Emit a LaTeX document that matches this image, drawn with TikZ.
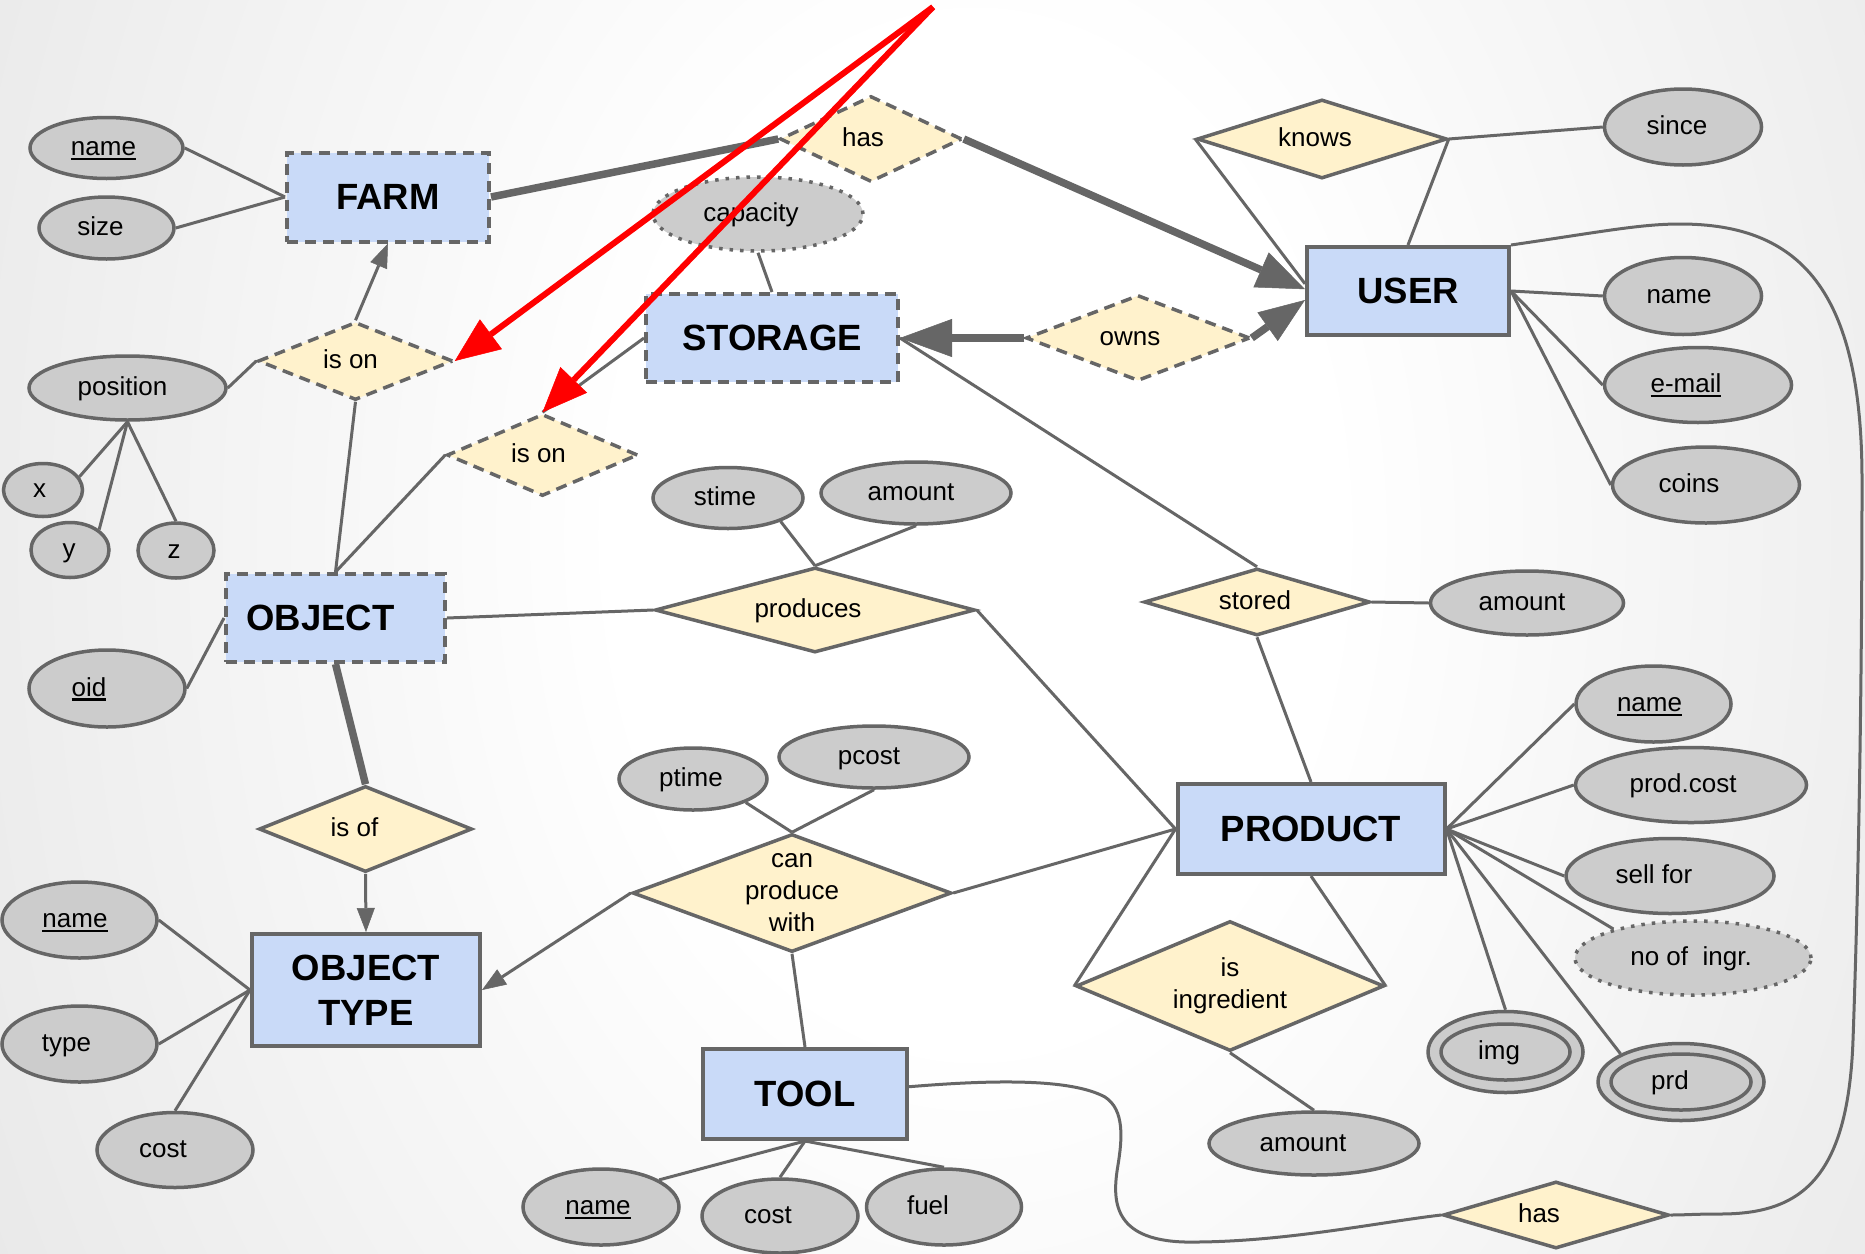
\documentclass[tikz,border=0pt]{standalone}
\usepackage{fontspec}
\setmainfont{Liberation Sans}
\usetikzlibrary{shapes.geometric,arrows.meta}

\definecolor{entfill}{HTML}{C9DAF8}
\definecolor{relfill}{HTML}{FFF2CC}
\definecolor{attrfill}{HTML}{CCCCCC}
\definecolor{linegray}{HTML}{666666}
\definecolor{bgedge}{HTML}{CFCFCF}

% soft radial glow behind the diagram
\pgfdeclareradialshading{bgglow}{\pgfpoint{0bp}{0bp}}{color(0bp)=(white); color(9bp)=(white); color(50bp)=(bgedge); color(72bp)=(bgedge)}

% key attributes: underlined label
\newsavebox{\keytextbox}
\newcommand{\keyattr}[1]{\sbox{\keytextbox}{#1}\smash{\rlap{\rule[-4.5pt]{\wd\keytextbox}{2.2pt}}}\usebox{\keytextbox}}

\tikzset{
  base/.style={draw=linegray, line width=3.5pt, inner sep=0pt, font=\fontsize{26}{32}\selectfont},
  entity/.style={base, rectangle, fill=entfill, line width=4pt, font=\bfseries\fontsize{36.5}{44.5}\selectfont},
  rel/.style={base, diamond, fill=relfill, text height=19pt, text depth=4pt},
  attr/.style={base, ellipse, fill=attrfill, text height=19pt, text depth=4pt},
  weak/.style={dash pattern=on 11pt off 7pt},
  derived/.style={dash pattern=on 3.5pt off 7pt},
  reltext/.style={font=\fontsize{26}{32}\selectfont, align=center, inner sep=0pt},
  sz/.style 2 args={minimum width=#1pt, minimum height=#2pt},
  ts/.style={execute at begin node={\hspace*{-#1pt}}},
  link/.style={draw=linegray, line width=3pt},
  heavy/.style={draw=linegray, line width=7.5pt},
  smalltip/.style={-{Triangle[length=24pt,width=18pt,line width=0.5pt]}},
  bigtip/.style={-{Triangle[length=48pt,width=38pt,line width=0.5pt]}},
  redarrow/.style={draw=red, line width=6pt, -{Triangle[length=45pt,width=37pt,line width=0.5pt]}},
}

\begin{document}
\begin{tikzpicture}[x=1pt, y=-1pt]

% background
\begin{scope}
  \clip (0,0) rectangle (1865,1253);
  \shade[shading=bgglow] (-25,-865) rectangle (1975,1935);
\end{scope}

% ---------- entities ----------
\node[entity, weak, sz={202}{89}] (farm) at (388,197) {FARM};
\node[entity, weak, sz={252}{88}] (storage) at (772,338) {STORAGE};
\node[entity, sz={202}{88}] (user) at (1408,291) {USER};
\node[entity, weak, sz={219}{88}] (object) at (335.5,618) {\hspace*{-30pt}OBJECT};
\node[entity, align=center, sz={228}{112}] (otype) at (366,990) {OBJECT\\TYPE};
\node[entity, sz={267}{90}] (product) at (1311,829) {PRODUCT};
\node[entity, sz={204}{90}] (tool) at (805,1094) {TOOL};

% ---------- relationships ----------
\node[rel, weak, sz={182}{86}, aspect=2.12, ts=16] (hasfarm) at (871,139) {has};
\node[rel, sz={250}{79}, aspect=3.16, ts=14] (knows) at (1322,139) {knows};
\node[rel, weak, sz={195}{78}, aspect=2.5, ts=10] (isonfarm) at (355.5,361) {is on};
\node[rel, weak, sz={191}{82}, aspect=2.33, ts=8] (isonstorage) at (542.5,455) {is on};
\node[rel, weak, sz={224}{86}, aspect=2.6, ts=16] (owns) at (1138,338) {owns};
\node[rel, sz={320}{85}, aspect=3.76, ts=14] (produces) at (815,610) {produces};
\node[rel, sz={226}{67}, aspect=3.37, ts=4] (stored) at (1257,602) {stored};
\node[rel, sz={213}{86}, aspect=2.48, ts=22] (isof) at (365.5,829) {is of};
\node[rel, sz={319}{118}, label={[reltext]center:can\\produce\\with}] (canprod) at (792,893) {};
\node[rel, sz={308}{130}, label={[reltext]center:is\\ingredient}] (isingr) at (1230,986) {};
\node[rel, sz={226}{67}, aspect=3.37, ts=34] (hastool) at (1556,1215) {has};

% ---------- attributes ----------
\node[attr, sz={153}{61}, ts=6] (farmname) at (106.5,148) {\keyattr{name}};
\node[attr, sz={135}{62}, ts=12] (farmsize) at (106.5,228) {size};
\node[attr, derived, sz={210}{74}, ts=14] (capacity) at (758,214) {capacity};
\node[attr, sz={197}{64}, ts=10] (position) at (127.5,388) {position};
\node[attr, sz={79}{53}, ts=7] (posx) at (43,490) {x};
\node[attr, sz={78}{55}, ts=2] (posy) at (70,550) {y};
\node[attr, sz={76}{55}, ts=4] (posz) at (176,550.5) {z};
\node[attr, sz={150}{61}, ts=6] (stime) at (728,498) {stime};
\node[attr, sz={190}{62}, ts=10] (prodamount) at (916,493) {amount};
\node[attr, sz={157}{76}, ts=12] (since) at (1683,127) {since};
\node[attr, sz={157}{77}, ts=8] (username) at (1683,296) {name};
\node[attr, sz={187}{75}, ts=24] (email) at (1698,385) {\keyattr{e-mail}};
\node[attr, sz={187}{76}, ts=34] (coins) at (1706,485) {coins};
\node[attr, sz={193}{64}, ts=10] (storedamount) at (1527,603) {amount};
\node[attr, sz={156}{77}, ts=36] (oid) at (107,688.5) {\keyattr{oid}};
\node[attr, sz={148}{62}, ts=4] (ptime) at (693,779) {ptime};
\node[attr, sz={190}{62}, ts=10] (pcost) at (874,757) {pcost};
\node[attr, sz={155}{76}, ts=9] (otname) at (79.5,920) {\keyattr{name}};
\node[attr, sz={155}{76}, ts=26] (ottype) at (79.5,1044) {type};
\node[attr, sz={156}{75}, ts=24] (otcost) at (175,1150) {cost};
\node[attr, sz={156}{76}, ts=6] (toolname) at (601,1207) {\keyattr{name}};
\node[attr, sz={156}{74}, ts=24] (toolcost) at (780,1216) {cost};
\node[attr, sz={155}{76}, ts=32] (toolfuel) at (944,1207) {fuel};
\node[attr, sz={210}{63}, ts=22] (ingramount) at (1314,1143.5) {amount};
\node[attr, sz={155}{76}, ts=8] (prodname) at (1653.5,704) {\keyattr{name}};
\node[attr, sz={231}{75}, ts=16] (prodcost) at (1691,785) {prod.cost};
\node[attr, sz={208}{75}, ts=32] (sellfor) at (1670,876) {sell for};
\node[attr, derived, sz={236}{74}, ts=4] (noingr) at (1693,958) {no of~~ingr.};
\node[attr, sz={155}{81}] (img) at (1505.5,1052) {};
\node[attr, sz={129}{56}, ts=13] (imgin) at (1505.5,1052) {img};
\node[attr, sz={166}{77}] (prd) at (1681,1082) {};
\node[attr, sz={140}{56}, ts=22] (prdin) at (1681,1082) {prd};

% ---------- connectors ----------
\draw[link] (farmname.east) -- (farm.west);
\draw[link] (farmsize.east) -- (farm.west);
\draw[heavy] (farm.east) -- (hasfarm.west);
\draw[heavy, bigtip] (hasfarm.east) -- (user.179);
\draw[link] (capacity.south) -- (storage.north);
\draw[heavy, -{Triangle[length=52pt,width=38pt,line width=0.5pt]}] (owns.west) -- (storage.east);
\draw[heavy, -{Triangle[length=46pt,width=35pt,line width=0.5pt]}] (owns.east) -- (user.185);
\draw[link] (knows.west) -- (user.176);
\draw[link] (knows.east) -- (user.north);
\draw[link] (knows.east) -- (since.west);
\draw[link] (user.east) -- (username.west);
\draw[link] (user.east) -- (email.west);
\draw[link] (user.east) -- (coins.west);
\draw[link] (user.north east) .. controls (1600,232) and (1640,224) .. (1680,224)
  .. controls (1800,224) and (1862,290) .. (1862,480)
  .. controls (1862,700) and (1858,900) .. (1853,1040)
  .. controls (1848,1180) and (1800,1214) .. (1720,1214)
  .. controls (1695,1214) and (1685,1215) .. (hastool.east);
\draw[link] (storage.east) -- (stored.north);
\draw[link] (storage.west) -- (isonstorage.north);
\draw[link] (stored.east) -- (storedamount.west);
\draw[link] (stored.south) -- (product.north);
\draw[link, smalltip] (isonfarm.north) -- (farm.south);
\draw[link] (position.east) -- (isonfarm.west);
\draw[link] (isonfarm.south) -- (object.north);
\draw[link] (isonstorage.west) -- (object.north);
\draw[link] (position.south) -- (posx.20);
\draw[link] (position.south) -- (posy.35);
\draw[link] (position.south) -- (posz.north);
\draw[link] (object.east) -- (produces.west);
\draw[link] (stime.-24) -- (produces.north);
\draw[link] (prodamount.south) -- (produces.north);
\draw[link] (produces.east) -- (product.west);
\draw[link] (object.west) -- (oid.east);
\draw[heavy] (object.south) -- (isof.north);
\draw[link, smalltip] (isof.south) -- (otype.north);
\draw[link] (otname.east) -- (otype.west);
\draw[link] (ottype.east) -- (otype.west);
\draw[link] (otcost.north) -- (otype.west);
\draw[link, smalltip] (canprod.west) -- (otype.east);
\draw[link] (ptime.-24) -- (canprod.north);
\draw[link] (pcost.south) -- (canprod.north);
\draw[link] (canprod.east) -- (product.west);
\draw[link] (canprod.south) -- (tool.north);
\draw[link] (tool.south) -- (toolname.25);
\draw[link] (tool.south) -- (toolcost.north);
\draw[link] (tool.south) -- (toolfuel.north);
\draw[link] (tool.4) .. controls (990,1080) and (1070,1078) .. (1105,1097)
  .. controls (1125,1110) and (1122,1140) .. (1118,1165)
  .. controls (1112,1200) and (1112,1240) .. (1185,1242)
  .. controls (1280,1243) and (1380,1222) .. (hastool.west);
\draw[link] (product.west) -- (isingr.west);
\draw[link] (product.south) -- (isingr.east);
\draw[link] (isingr.south) -- (ingramount.north);
\draw[link] (product.east) -- (prodname.west);
\draw[link] (product.east) -- (prodcost.west);
\draw[link] (product.east) -- (sellfor.west);
\draw[link] (product.east) -- (noingr.160);
\draw[link] (product.east) -- (img.north);
\draw[link] (product.east) -- (prd.155);

% ---------- red pointers ----------
\coordinate (redsrc) at (933,7);
\draw[redarrow] (redsrc) -- (isonfarm.east);
\draw[redarrow] (redsrc) -- (isonstorage.north);

\pgfresetboundingbox
\useasboundingbox (0,0) rectangle (1865,1253);
\end{tikzpicture}
\end{document}
